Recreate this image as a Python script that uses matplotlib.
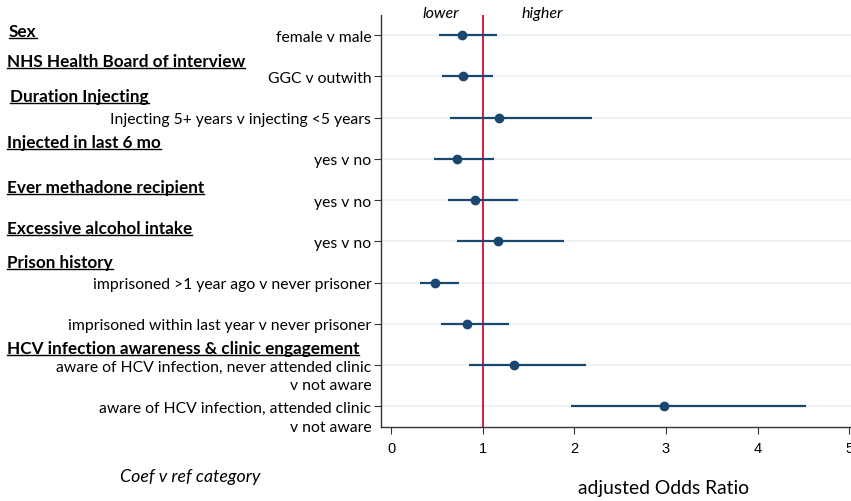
import matplotlib
matplotlib.use("Agg")
import matplotlib.pyplot as plt
from matplotlib.lines import Line2D

# rows, top to bottom
row_labels = [
    "female v male",
    "GGC v outwith",
    "Injecting 5+ years v injecting <5 years",
    "yes v no",
    "yes v no",
    "yes v no",
    "imprisoned >1 year ago v never prisoner",
    "imprisoned within last year v never prisoner",
    "aware of HCV infection, never attended clinic",
    "aware of HCV infection, attended clinic",
]
second_lines = {9: "v not aware", 10: "v not aware"}
odds_ratio = [0.77, 0.78, 1.18, 0.72, 0.92, 1.17, 0.48, 0.83, 1.34, 2.98]
ci_low = [0.52, 0.56, 0.64, 0.47, 0.62, 0.72, 0.32, 0.54, 0.85, 1.96]
ci_high = [1.16, 1.11, 2.19, 1.12, 1.39, 1.89, 0.74, 1.29, 2.13, 4.53]

# group headers: (text, y pixel from top, x pixel)
headers = [
    ("Sex", 32, 9),
    ("NHS Health Board of interview", 62, 7),
    ("Duration Injecting", 97, 10),
    ("Injected in last 6 mo", 143, 7),
    ("Ever methadone recipient", 188, 7),
    ("Excessive alcohol intake", 229, 7),
    ("Prison history", 263, 7),
    ("HCV infection awareness & clinic engagement", 349, 7),
]

navy = "#1a476f"
red = "#d81b45"
W, H = 851, 502
font = "Lato"

fig = plt.figure(figsize=(W / 100, H / 100), dpi=100)
ax = fig.add_axes([381 / W, 1 - 428 / H, 470 / W, (428 - 15.5) / H])

rows = list(range(1, len(row_labels) + 1))
for r in rows:
    ax.axhline(r, color="#e9f0f3", lw=1.2, zorder=0)
ax.axvline(1, color=red, lw=1.4, zorder=1)
ax.hlines(rows, ci_low, ci_high, color=navy, lw=1.6, zorder=2)
ax.plot(odds_ratio, rows, "o", color=navy, ms=6, zorder=3)

ax.set_xlim(-0.11, 5.02)
ax.set_ylim(10.5, 0.5)
ax.set_xticks([0, 1, 2, 3, 4, 5])
ax.set_yticks(rows)
ax.set_yticklabels(row_labels, family=font, fontsize=11.3)
for lab in ax.get_xticklabels():
    lab.set_family("Liberation Sans")
    lab.set_fontsize(10.5)
ax.tick_params(axis="y", length=5, width=0.8, pad=2, color="#333333")
ax.tick_params(axis="x", length=5, width=0.8, pad=5, color="#333333")
for s in ["top", "right"]:
    ax.spines[s].set_visible(False)
for s in ["left", "bottom"]:
    ax.spines[s].set_color("#333333")
    ax.spines[s].set_linewidth(1.0)

for r, txt in second_lines.items():
    ax.annotate(txt, xy=(0, r), xycoords=("axes fraction", "data"),
                xytext=(-7, -14.5), textcoords="offset points",
                ha="right", va="center", family=font, fontsize=11.3)

fig.text(441 / W, 1 - 14 / H, "lower", ha="center", va="center",
         style="italic", family=font, fontsize=11.5)
fig.text(542 / W, 1 - 14 / H, "higher", ha="center", va="center",
         style="italic", family=font, fontsize=11.5)

fig.text(664 / W, 1 - 489 / H, "adjusted Odds Ratio", ha="center", va="center",
         family=font, fontsize=13.9)
fig.text(190 / W, 1 - 477 / H, "Coef v ref category", ha="center", va="center",
         family=font, fontsize=12.8, style="italic")

texts = []
for txt, py, px in headers:
    t = fig.text(px / W, 1 - py / H, txt, ha="left", va="center",
                 family=font, fontsize=12.3, fontweight="bold")
    texts.append(t)

# underline the headers
fig.canvas.draw()
renderer = fig.canvas.get_renderer()
for t in texts:
    bb = t.get_window_extent(renderer)
    yy = bb.y0 + 1
    fig.add_artist(Line2D([bb.x0 / W, bb.x1 / W], [yy / H, yy / H],
                          color="black", lw=1.0, transform=fig.transFigure))

fig.savefig("out.png", dpi=100)
